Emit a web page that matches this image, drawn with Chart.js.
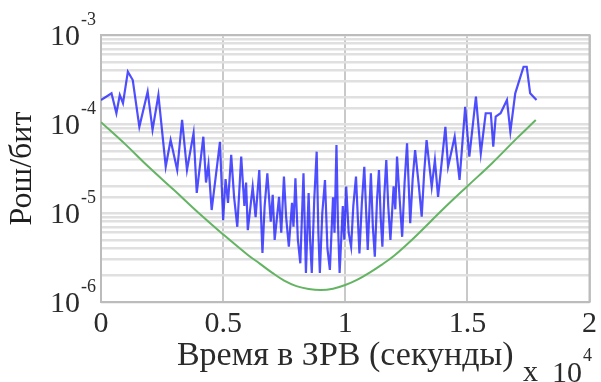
<!DOCTYPE html>
<html>
<head>
<meta charset="utf-8">
<script src="https://cdn.jsdelivr.net/npm/chart.js@4/dist/chart.umd.min.js"></script>
<style>
  html, body { margin: 0; padding: 0; background: #fff; }
  canvas { display: block; }
</style>
</head>
<body>
<canvas id="c" width="601" height="382"></canvas>
<script>
// Error probability per bit over the visibility window (time in seconds)
const blueTime = [0, 430, 630, 770, 900, 1100, 1300, 1570, 1910, 2110,
  2350, 2650, 2850, 3120, 3320, 3520, 3790, 3920, 4190, 4300,
  4400, 4530, 4700, 4870, 5000, 5100, 5200, 5330, 5450, 5580,
  5740, 5870, 5940, 6010, 6210, 6330, 6480, 6610, 6700, 6810,
  6950, 7030, 7110, 7290, 7380, 7490, 7580, 7690, 7820, 7880,
  7960, 8060, 8160, 8290, 8390, 8500, 8560, 8630, 8730, 8830,
  8900, 8960, 9060, 9170, 9270, 9370, 9500, 9560, 9640, 9700,
  9770, 9900, 9960, 10040, 10140, 10240, 10330, 10440, 10580, 10680,
  10780, 10920, 10990, 11050, 11130, 11210, 11300, 11380, 11450, 11520,
  11600, 11680, 11760, 11850, 11980, 12050, 12120, 12230, 12330, 12430,
  12530, 12600, 12660, 12760, 12860, 13000, 13130, 13230, 13330, 13540,
  13670, 13800, 14100, 14210, 14480, 14680, 14910, 15080, 15350, 15550,
  15750, 15960, 16060, 16160, 16360, 16620, 16760, 16960, 17300, 17430,
  17570, 17830];
const blueBer = [1.86e-4, 2.21e-4, 1.32e-4, 2.12e-4, 1.71e-4, 3.87e-4, 3.12e-4, 9.3e-5, 2.31e-4, 8.6e-5,
  2.12e-4, 3.31e-5, 6.6e-5, 3.04e-5, 1.11e-4, 3.04e-5, 7.9e-5, 1.68e-5, 7.2e-5, 2.2e-5,
  3.5e-5, 1.08e-5, 2.6e-5, 6.3e-5, 8.3e-6, 2.4e-5, 1.3e-5, 4.5e-5, 1.5e-5, 7.0e-6,
  4.3e-5, 1.2e-5, 2.2e-5, 6.4e-6, 1.97e-5, 9.0e-6, 3.04e-5, 3.56e-6, 1.2e-5, 2.79e-5,
  8.0e-6, 1.6e-5, 4.98e-6, 1.52e-5, 6.0e-6, 2.56e-5, 9.0e-6, 4.18e-6, 1.3e-5, 7.0e-6,
  2.45e-5, 5.0e-6, 2.72e-6, 2.79e-5, 2.12e-6, 1.68e-5, 5.0e-6, 2.12e-6, 1.4e-5, 4.89e-5,
  6.0e-6, 2.12e-6, 1.0e-5, 2.35e-5, 4.0e-6, 2.29e-6, 1.5e-5, 6.0e-6, 5.8e-5, 8.0e-6,
  2.12e-6, 1.2e-5, 5.0e-6, 1.98e-5, 6.0e-6, 4.18e-6, 1.2e-5, 2.56e-5, 3.52e-6, 1.3e-5,
  3.31e-5, 3.84e-6, 1.1e-5, 2.79e-5, 7.0e-6, 3.23e-6, 1.4e-5, 3.04e-5, 9.0e-6, 4.18e-6,
  1.6e-5, 3.94e-5, 1.2e-5, 4.98e-6, 2.0e-5, 1.1e-5, 4.3e-5, 1.4e-5, 5.4e-6, 2.2e-5,
  6.07e-5, 2.0e-5, 7.7e-6, 2.4e-5, 5.1e-5, 2.2e-5, 9.1e-6, 2.8e-5, 6.6e-5, 1.97e-5,
  3.94e-5, 1.52e-5, 9.3e-5, 3.31e-5, 7.2e-5, 2.35e-5, 1.56e-4, 4.3e-5, 2.03e-4, 4.69e-5,
  1.32e-4, 1.32e-4, 5.56e-5, 1.21e-4, 1.32e-4, 1.86e-4, 8.2e-5, 2.21e-4, 4.4e-4, 4.4e-4,
  2.21e-4, 1.86e-4];

// Theoretical lower bound
const greenTime = [0, 1000, 2000, 3000, 4000, 5000, 6000, 6500, 7000, 7500,
  8000, 8500, 9000, 9500, 10000, 10500, 11000, 11500, 12000, 12500,
  13000, 14000, 15000, 16000, 17000, 17800];
const greenBer = [1.05e-4, 5.9e-5, 3.2e-5, 1.8e-5, 1.0e-5, 5.75e-6, 3.4e-6, 2.7e-6, 2.14e-6, 1.74e-6,
  1.51e-6, 1.4e-6, 1.36e-6, 1.41e-6, 1.55e-6, 1.78e-6, 2.14e-6, 2.63e-6, 3.31e-6, 4.37e-6,
  5.89e-6, 1.1e-5, 2.0e-5, 3.6e-5, 6.8e-5, 1.11e-4];

const xTickValues = [0, 5000, 10000, 15000, 20000];
const yDecadeExponents = [-3, -4, -5, -6];
const xTitle = 'Время в ЗРВ (секунды)';
const yTitle = 'Рош/бит';
const xMultiplierBase = '10';
const xMultiplierExp = '4';

const SERIF = '"Liberation Serif", "Times New Roman", serif';
const TEXT = '#2b2b2b';

const toPoints = (xs, ys) => xs.map((x, i) => ({ x, y: ys[i] }));

const decorations = {
  id: 'decorations',
  beforeDatasetsDraw(chart) {
    const { ctx, chartArea: a } = chart;
    ctx.save();
    ctx.strokeStyle = '#bcbcbc';
    ctx.lineWidth = 2;
    ctx.strokeRect(a.left, a.top, a.right - a.left, a.bottom - a.top);
    ctx.restore();
  },
  afterDraw(chart) {
    const { ctx, scales: { y } } = chart;
    ctx.save();
    ctx.fillStyle = TEXT;
    yDecadeExponents.forEach(e => {
      const py = y.getPixelForValue(Math.pow(10, e));
      ctx.font = '30px ' + SERIF;
      ctx.textAlign = 'right';
      ctx.textBaseline = 'middle';
      ctx.fillText('10', 80, py + 2);
      ctx.font = '18px ' + SERIF;
      ctx.textAlign = 'left';
      ctx.fillText(String(e), 81, py - 15);
    });
    // axis multiplier
    ctx.textAlign = 'left';
    ctx.textBaseline = 'alphabetic';
    ctx.font = '30px ' + SERIF;
    ctx.fillText('x', 523, 381);
    ctx.fillText(xMultiplierBase, 552, 382);
    ctx.font = '18px ' + SERIF;
    ctx.fillText(xMultiplierExp, 583, 361);
    ctx.restore();
  }
};

new Chart(document.getElementById('c'), {
  type: 'line',
  data: {
    datasets: [
      {
        data: toPoints(blueTime, blueBer),
        borderColor: 'rgba(30,30,255,0.78)',
        borderWidth: 2.2,
        pointRadius: 0,
        tension: 0
      },
      {
        data: toPoints(greenTime, greenBer),
        borderColor: '#64b464',
        borderWidth: 2,
        pointRadius: 0,
        tension: 0.4
      }
    ]
  },
  options: {
    responsive: false,
    animation: false,
    layout: { padding: { top: 35, right: 4, left: 0, bottom: 0 } },
    plugins: { legend: { display: false }, tooltip: { enabled: false } },
    scales: {
      x: {
        type: 'linear',
        min: 0,
        max: 20000,
        afterBuildTicks: s => { s.ticks = xTickValues.map(v => ({ value: v })); },
        ticks: {
          callback: v => String(v / 10000),
          font: { family: SERIF, size: 30 },
          color: TEXT,
          padding: 4,
          maxRotation: 0,
          autoSkip: false
        },
        grid: { color: '#c9c9c9', lineWidth: 2, drawTicks: false },
        border: { display: false },
        title: {
          display: true,
          text: xTitle,
          font: { family: SERIF, size: 34 },
          color: TEXT,
          padding: { top: 0, bottom: 6 }
        },
        afterFit: s => { s.height = 80; }
      },
      y: {
        type: 'logarithmic',
        min: 1e-6,
        max: 1e-3,
        ticks: { display: false },
        grid: { color: '#e0e0e0', lineWidth: 2.5, drawTicks: false },
        border: { display: false },
        title: {
          display: true,
          text: yTitle,
          font: { family: SERIF, size: 32 },
          color: '#1e1e1e',
          padding: { top: 3, bottom: 0 }
        },
        afterFit: s => { s.width = 101; }
      }
    }
  },
  plugins: [decorations]
});
</script>
</body>
</html>
